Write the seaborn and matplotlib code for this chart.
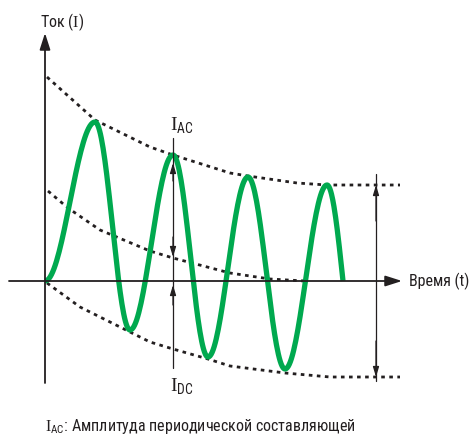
import matplotlib as mpl
mpl.use('Agg')
import matplotlib.pyplot as plt
import numpy as np
import pandas as pd
import seaborn as sns

# current wave: start, peaks / troughs, cut-off point (time, current)
wave_t = [0, 50, 85, 128, 163, 203, 240, 282, 298]
wave_i = [0, 159, -49, 126, -76, 104, -88, 96, 0]

# dotted envelopes
upper_t = [2, 50, 105, 128, 185, 203, 252, 282, 355]
upper_i = [204, 161, 134, 126, 108, 105, 98, 96, 96]
dc_t = [3, 23, 55, 105, 128, 185, 225, 260]
dc_i = [90, 73, 51, 30, 23, 8, 2, 0]
lower_t = [2, 35, 85, 105, 128, 163, 185, 240, 285, 355]
lower_i = [-2, -26, -51, -61, -68, -78, -85, -92, -96, -96]

t_marker = 128      # where I_AC / I_DC are shown
t_span = 331        # double arrow on the right

y_label = 'Ток ($\\mathrm{I}$)'
x_label = 'Время (t)'
ac_label = '$\\mathrm{I}_{\\mathsf{AC}}$'
dc_label = '$\\mathrm{I}_{\\mathsf{DC}}$'
caption = '$\\mathrm{I}_{\\mathsf{AC}}$: Амплитуда периодической составляющей'

GREEN = '#00a94f'
INK = '#231f20'


def smooth_wave(ts, vs, n=40):
    xs, ys = [], []
    for k in range(len(ts) - 1):
        t0, t1, v0, v1 = ts[k], ts[k + 1], vs[k], vs[k + 1]
        f = np.linspace(0, 1, n)
        if k == len(ts) - 2:
            y = v0 * np.cos(f * np.pi / 2)
        else:
            y = (v0 + v1) / 2 + (v0 - v1) / 2 * np.cos(np.pi * f)
        xs.extend(t0 + f * (t1 - t0))
        ys.extend(y)
    return pd.DataFrame({'t': xs, 'i': ys})


sns.set_style('white')
plt.rcParams['font.family'] = ['Roboto Condensed', 'DejaVu Sans']
plt.rcParams['mathtext.fontset'] = 'custom'
plt.rcParams['mathtext.rm'] = 'Liberation Serif'
plt.rcParams['mathtext.sf'] = 'Roboto Condensed'

fig = plt.figure(figsize=(4.73, 4.37), dpi=100)
ax = fig.add_axes([0, 0, 1, 1])
ax.set_xlim(-45, 428)
ax.set_ylim(-156, 281)
ax.axis('off')

dotted = (0, (1.3, 1.6))
for tt, ii in [(upper_t, upper_i), (dc_t, dc_i), (lower_t, lower_i)]:
    env = pd.DataFrame({'t': tt, 'i': ii})
    sns.lineplot(data=env, x='t', y='i', sort=False, estimator=None, ax=ax,
                 color=INK, lw=2.0, linestyle=dotted)

# axes with arrows
big = dict(arrowstyle='-|>,head_length=1.0,head_width=0.32', color=INK, lw=1.3,
           mutation_scale=10, shrinkA=0, shrinkB=0)
ax.annotate('', xy=(357, 0), xytext=(-36, 0), arrowprops=big)
ax.annotate('', xy=(0, 248), xytext=(0, -102), arrowprops=big)

wave = smooth_wave(wave_t, wave_i)
sns.lineplot(data=wave, x='t', y='i', sort=False, estimator=None, ax=ax,
             color=GREEN, lw=3.8, solid_capstyle='butt')

# marker lines
small = dict(arrowstyle='-|>,head_length=1.0,head_width=0.3', color=INK, lw=0.9,
             mutation_scale=6, shrinkA=0, shrinkB=0)
ax.plot([t_marker, t_marker], [143, -87], color=INK, lw=0.9)
ax.annotate('', xy=(t_marker, 118), xytext=(t_marker, 100), arrowprops=small)
ax.annotate('', xy=(t_marker, 24), xytext=(t_marker, 44), arrowprops=small)
ax.annotate('', xy=(t_marker, -4), xytext=(t_marker, -24), arrowprops=small)

ax.plot([t_span, t_span], [107, -100], color=INK, lw=0.9)
ax.annotate('', xy=(t_span, upper_i[-1]), xytext=(t_span, 60), arrowprops=small)
ax.annotate('', xy=(t_span, lower_i[-1]), xytext=(t_span, -60), arrowprops=small)

ax.text(-5, 259, y_label, fontsize=11.5, color=INK, ha='left', va='center')
ax.text(364, 0, x_label, fontsize=11.5, color=INK, ha='left', va='center')
ax.text(125, 155, ac_label, fontsize=14, color=INK, ha='left', va='center')
ax.text(125, -106, dc_label, fontsize=14, color=INK, ha='left', va='center')
ax.text(0, -146, caption, fontsize=11.5, color=INK, ha='left', va='center')

plt.savefig('out.png', dpi=100)
plt.close()
